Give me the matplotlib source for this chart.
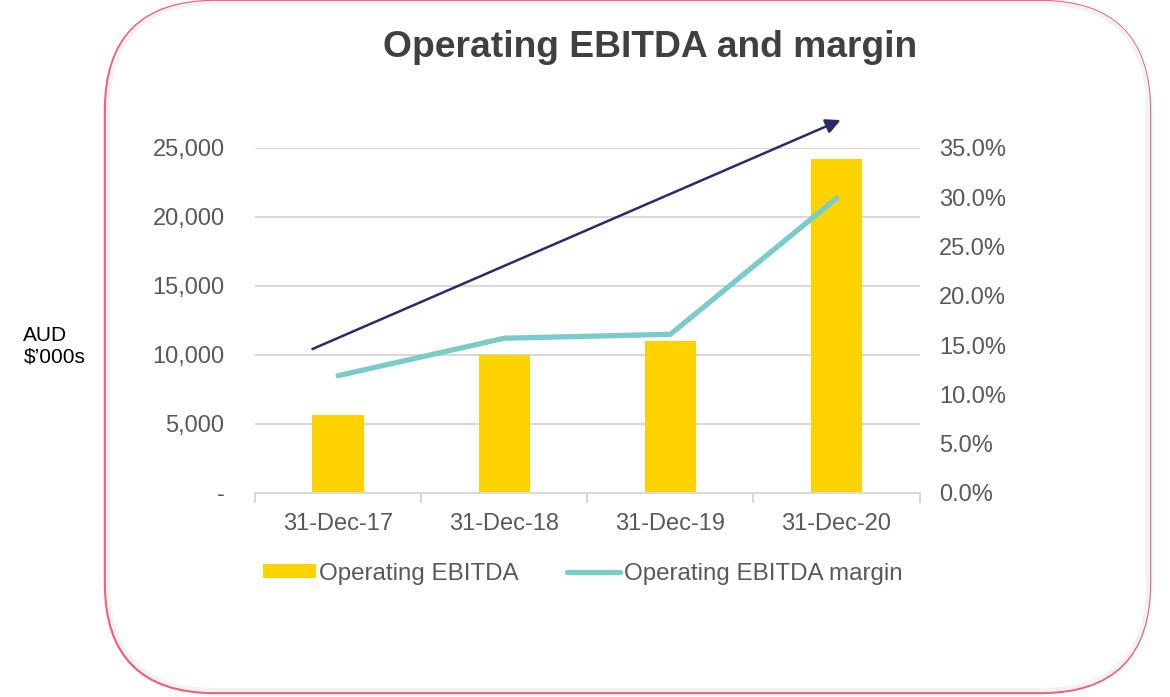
import matplotlib.pyplot as plt
from matplotlib.patches import FancyBboxPatch
from matplotlib.ticker import FuncFormatter, PercentFormatter

plt.rcParams['font.family'] = ['Liberation Sans', 'DejaVu Sans']

# Datos
periodos = ['31-Dec-17', '31-Dec-18', '31-Dec-19', '31-Dec-20']
ebitda = [5650, 10000, 11000, 24200]          # AUD $'000s
margen = [11.9, 15.7, 16.1, 29.9]             # %
flecha_inicio = (-0.17, 10350)
flecha_fin = (3.04, 27100)

gris = '#595959'

fig = plt.figure(figsize=(11.7, 6.97), dpi=100)

# Marco redondeado con sombra suave
sombra = FancyBboxPatch((1.08, 0.07), 10.40, 6.87,
                        boxstyle='round,pad=0,rounding_size=1.07',
                        transform=fig.dpi_scale_trans, facecolor='none',
                        edgecolor='#f2f2f2', linewidth=3, zorder=2)
marco = FancyBboxPatch((1.05, 0.04), 10.45, 6.92,
                       boxstyle='round,pad=0,rounding_size=1.1',
                       transform=fig.dpi_scale_trans, facecolor='white',
                       edgecolor='#EE6478', linewidth=1.8, zorder=1)
fig.patches.extend([marco, sombra])

ax = fig.add_axes([0.218, 0.2927, 0.568, 0.495])
ax.set_zorder(2)
ax.patch.set_alpha(0)
x = range(len(periodos))

barras = ax.bar(x, ebitda, width=0.31, color='#FFD300', zorder=2,
                label='Operating EBITDA')
ax.set_xlim(-0.5, 3.5)
ax.set_ylim(0, 25000)
ax.set_yticks([0, 5000, 10000, 15000, 20000, 25000])
ax.yaxis.set_major_formatter(FuncFormatter(lambda v, p: '-' if v == 0 else f'{v:,.0f}'))
ax.grid(axis='y', color='#D9D9D9', linewidth=1.5, zorder=0)
ax.set_axisbelow(True)
for s in ['left', 'right', 'top']:
    ax.spines[s].set_visible(False)
ax.spines['bottom'].set_color('#D9D9D9')
ax.spines['bottom'].set_linewidth(1.5)
ax.tick_params(axis='y', length=0, pad=22, labelsize=17, labelcolor=gris)
ax.set_xticks([-0.5, 0.5, 1.5, 2.5, 3.5])
ax.set_xticklabels([])
ax.set_xticks(list(x), minor=True)
ax.set_xticklabels(periodos, minor=True)
ax.tick_params(axis='x', which='major', direction='out', length=7,
               width=1.5, color='#D9D9D9')
ax.tick_params(axis='x', which='minor', length=0, pad=14.5, labelsize=17,
               labelcolor=gris)

ax2 = ax.twinx()
linea, = ax2.plot(x, margen, color='#7ACCC8', linewidth=3.8,
                  solid_capstyle='round', solid_joinstyle='round', zorder=3,
                  label='Operating EBITDA margin')
ax2.set_ylim(0, 35)
ax2.set_yticks([0, 5, 10, 15, 20, 25, 30, 35])
ax2.yaxis.set_major_formatter(PercentFormatter(decimals=1))
for s in ['left', 'right', 'top', 'bottom']:
    ax2.spines[s].set_visible(False)
ax2.tick_params(axis='y', length=0, pad=14, labelsize=17, labelcolor=gris)

# Flecha de tendencia
ax.annotate('', xy=flecha_fin, xytext=flecha_inicio,
            arrowprops=dict(arrowstyle='-|>', color='#2B2A6B', linewidth=1.8,
                            mutation_scale=22),
            annotation_clip=False, zorder=4)

fig.text(0.556, 0.932, 'Operating EBITDA and margin', ha='center', va='center',
         fontsize=26.8, fontweight='bold', color='#404040')
fig.text(0.02, 0.503, 'AUD\n$\u2019000s', ha='left', va='center', fontsize=15,
         color='black', linespacing=1.15)

fig.legend(handles=[barras, linea], loc='center', bbox_to_anchor=(0.498, 0.177),
           ncol=2, frameon=False, fontsize=17.4, labelcolor=gris,
           handlelength=2.2, handleheight=0.55, handletextpad=0.15,
           columnspacing=2.0)

fig.savefig('out.png', dpi=100)
